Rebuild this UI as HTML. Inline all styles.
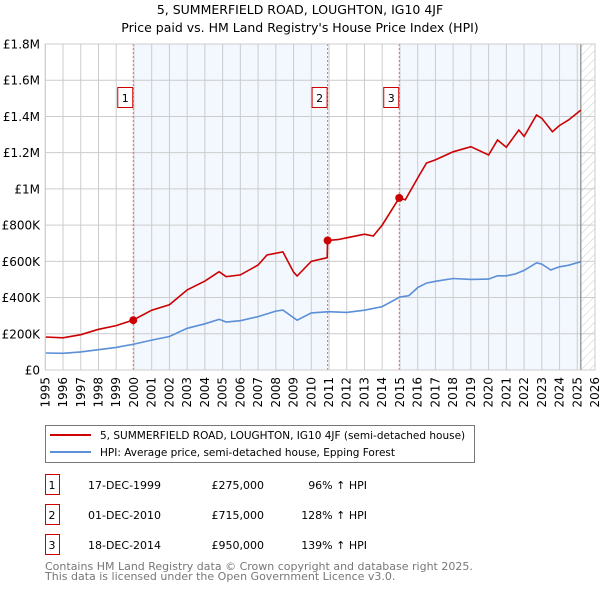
<!DOCTYPE html>
<html><head><meta charset="utf-8"><style>
body{margin:0;background:#fff;font-family:"DejaVu Sans","Liberation Sans",sans-serif;}
svg text{font-family:"DejaVu Sans","Liberation Sans",sans-serif;}
</style></head><body>
<svg id="c" width="600" height="590" xmlns="http://www.w3.org/2000/svg">
<defs><pattern id="hatch" width="6" height="6" patternUnits="userSpaceOnUse" patternTransform="rotate(45)"><line x1="0" y1="0" x2="0" y2="6" stroke="#bbb" stroke-width="0.8"/></pattern></defs>
<text x="300" y="14" text-anchor="middle" font-size="12.5">5, SUMMERFIELD ROAD, LOUGHTON, IG10 4JF</text>
<text x="300" y="32" text-anchor="middle" font-size="12.5">Price paid vs. HM Land Registry's House Price Index (HPI)</text>
<g id="plot"></g>
<g>
<rect x="45.5" y="425.5" width="429" height="37" fill="#fff" stroke="#777"/>
<line x1="50" y1="435" x2="91" y2="435" stroke="#cc0000" stroke-width="2"/>
<text x="100" y="439" font-size="10.5">5, SUMMERFIELD ROAD, LOUGHTON, IG10 4JF (semi-detached house)</text>
<line x1="50" y1="452" x2="91" y2="452" stroke="#5b8fd6" stroke-width="2"/>
<text x="100" y="456" font-size="10.5">HPI: Average price, semi-detached house, Epping Forest</text>
</g>
<g id="table" font-size="11"></g>
<text x="45" y="570" font-size="11" fill="#777">Contains HM Land Registry data © Crown copyright and database right 2025.</text>
<text x="45" y="580" font-size="11" fill="#777">This data is licensed under the Open Government Licence v3.0.</text>
</svg>
<script>
const yearTicks=[1995,1996,1997,1998,1999,2000,2001,2002,2003,2004,2005,2006,2007,2008,2009,2010,2011,2012,2013,2014,2015,2016,2017,2018,2019,2020,2021,2022,2023,2024,2025,2026];
const valueTicks=[0,200000,400000,600000,800000,1000000,1200000,1400000,1600000,1800000];
const valueLabels=["£0","£200K","£400K","£600K","£800K","£1M","£1.2M","£1.4M","£1.6M","£1.8M"];
const hpiYears=[1995,1996,1997,1998,1999,2000,2001,2002,2003,2004,2004.8,2005.2,2006,2007,2008,2008.4,2009.2,2010,2011,2012,2013,2014,2015,2015.5,2016,2016.5,2017,2018,2019,2020,2020.5,2021,2021.5,2022,2022.7,2023,2023.5,2024,2024.5,2025.2];
const hpiValues=[94,92,100,112,125,143,165,185,230,255,280,265,272,295,325,331,275,315,322,318,330,350,403,410,455,480,490,505,500,502,520,520,530,550,592,585,552,570,578,598];
const propYears=[1995,1996,1997,1998,1999,1999.96,2001,2002,2003,2004,2004.8,2005.2,2006,2007,2007.5,2008.4,2009,2009.2,2010,2010.9,2010.92,2011.5,2012,2013,2013.5,2014,2014.96,2015.3,2016,2016.5,2017,2018,2019,2020,2020.5,2021,2021.7,2022,2022.7,2023,2023.6,2024,2024.5,2025.2];
const propValues=[182,178,195,225,245,276,330,360,442,491,543,515,525,580,635,652,540,519,600,620,715,720,730,750,740,800,950,940,1060,1143,1160,1205,1233,1187,1270,1230,1325,1290,1408,1390,1316,1350,1380,1435];
const saleYears=[1999.96,2010.92,2014.96];
const saleValues=[275000,715000,950000];
const saleLabels=["1","2","3"];
const saleDates=["17-DEC-1999","01-DEC-2010","18-DEC-2014"];
const salePrices=["£275,000","£715,000","£950,000"];
const saleHpi=["96% ↑ HPI","128% ↑ HPI","139% ↑ HPI"];
const dataEnd=2025.2;

const X0=45.3,X1=595,Y0=370,Y1=44;
const xs=y=>X0+(y-1995)/(2026-1995)*(X1-X0);
const ys=v=>Y0-v/1800000*(Y0-Y1);
const NS="http://www.w3.org/2000/svg";
const plot=document.getElementById('plot');
function mk(tag,attrs,parent){const e=document.createElementNS(NS,tag);for(const k in attrs)e.setAttribute(k,attrs[k]);(parent||plot).appendChild(e);return e;}

let r=mk('rect',{x:xs(saleYears[0]),y:Y1,width:xs(saleYears[1])-xs(saleYears[0]),height:Y0-Y1,fill:'#f3f7fe'});


r=mk('rect',{x:xs(saleYears[2]),y:Y1,width:xs(dataEnd)-xs(saleYears[2]),height:Y0-Y1,fill:'#f3f7fe'});


r=mk('rect',{x:xs(dataEnd),y:Y1,width:X1-xs(dataEnd),height:Y0-Y1,fill:'url(#hatch)'});



yearTicks.forEach(y=>{
  const x=xs(y);
  const l=mk('line',{x1:x,x2:x,y1:Y1,y2:Y0,stroke:'#ccc','stroke-width':1});
  
  
  const t=mk('text',{x:0,y:0,'font-size':12,'text-anchor':'end',transform:`translate(${x+4},${Y0+7}) rotate(-90)`});
  t.textContent=y;
  
  
});
valueTicks.forEach((v,i)=>{
  const y=ys(v);
  const l=mk('line',{x1:X0,x2:X1,y1:y,y2:y,stroke:'#ccc','stroke-width':1});
  
  
  const t=mk('text',{x:40,y:y+4.5,'font-size':12,'text-anchor':'end'});
  t.textContent=valueLabels[i];
  
  
});
let el=mk('line',{x1:xs(dataEnd),x2:xs(dataEnd),y1:Y1,y2:Y0,stroke:'#888','stroke-width':1.2});



saleYears.forEach((sy,i)=>{
  const x=xs(sy);
  const l=mk('line',{x1:x,x2:x,y1:Y1,y2:Y0,stroke:'#e66','stroke-width':1,'stroke-dasharray':'2,2'});
  
  
  const b=mk('rect',{x:x-15.5,y:87.5,width:15,height:20,fill:'#fff',stroke:'#c00','stroke-width':1});
  
  
  const t=mk('text',{x:x-8,y:102,'font-size':11,'text-anchor':'middle'});
  t.textContent=saleLabels[i];
  
  
});

function path(xa,va){return xa.map((y,i)=>(i?'L':'M')+xs(y).toFixed(1)+','+ys(va[i]*1000).toFixed(1)).join('');}
el=mk('path',{d:path(hpiYears,hpiValues),fill:'none',stroke:'#5b8fd6','stroke-width':1.6});


el=mk('path',{d:path(propYears,propValues),fill:'none',stroke:'#cc0000','stroke-width':1.6});


saleYears.forEach((sy,i)=>{
  const c=mk('circle',{cx:xs(sy),cy:ys(saleValues[i]),r:4,fill:'#cc0000'});
  
  
});
el=mk('rect',{x:X0,y:Y1,width:X1-X0,height:Y0-Y1,fill:'none',stroke:'#ccc'});



const tb=document.getElementById('table');
saleLabels.forEach((s,i)=>{
  const y=479+i*30;
  const b=mk('rect',{x:45.5,y:y-4.5,width:14,height:20,fill:'#fff',stroke:'#c00'},tb);
  
  
  const cells=[[52,s,'middle'],[88,saleDates[i],'start'],[264,salePrices[i],'end'],[367,saleHpi[i],'end']];
  cells.forEach((c,j)=>{
    const t=mk('text',{x:c[0],y:y+10,'text-anchor':c[2]},tb);
    t.textContent=c[1];
    
    
  });
});
</script>
</body></html>
